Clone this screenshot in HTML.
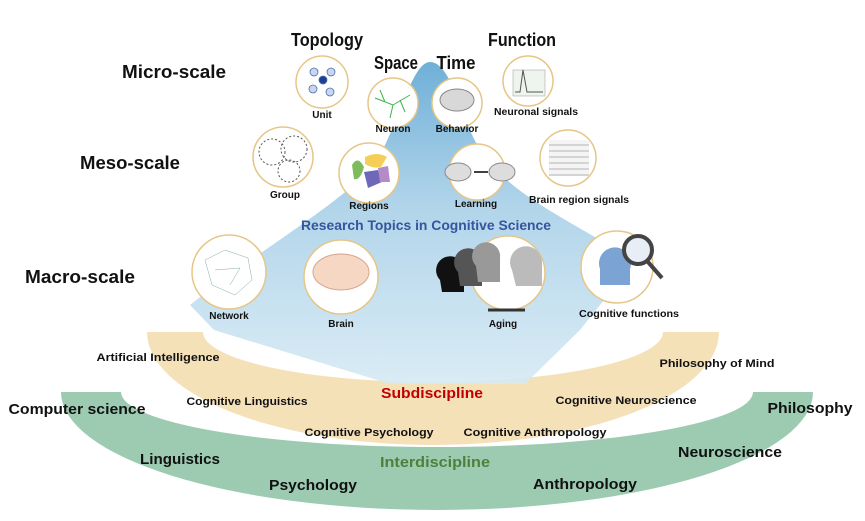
<!DOCTYPE html>
<html><head><meta charset="utf-8"><style>
html,body{margin:0;padding:0;background:#fff}
svg{display:block}
text{font-family:"Liberation Sans",sans-serif;font-weight:bold;fill:#111}
.t{font-size:18px}.s{font-size:10px}.m{font-size:11px}.l{font-size:15px}
</style></head><body>
<svg width="865" height="521" viewBox="0 0 865 521" xmlns="http://www.w3.org/2000/svg">
<defs>
<linearGradient id="bl" x1="0" y1="0" x2="0" y2="1">
<stop offset="0" stop-color="#5fa7d3"/><stop offset="0.45" stop-color="#a9d0e8"/><stop offset="1" stop-color="#d6eaf4"/>
</linearGradient>
</defs>
<!-- green band -->
<path d="M61,392 A376,118 0 0 0 813,392 L753,392 A316,55 0 0 1 121,392 Z" fill="#9ccbb1"/>
<!-- tan band -->
<path d="M147,332 A286,113 0 0 0 719,332 L663,332 A230,50 0 0 1 203,332 Z" fill="#f5e1b8"/>
<!-- blue peak -->
<path d="M430,62 C445,62 455,90 470,130 C490,180 540,205 600,240 L640,255 L580,330 L525,384 L390,384 L214,330 L190,305 C260,250 330,210 370,170 C395,140 410,62 430,62 Z" fill="url(#bl)" opacity="0.9"/>
<!-- circles -->
<g fill="#fff" stroke="#e6c687" stroke-width="1.5">
<circle cx="322" cy="82" r="26"/><circle cx="393" cy="103" r="25"/><circle cx="457" cy="103" r="25"/><circle cx="528" cy="81" r="25"/>
<circle cx="283" cy="157" r="30"/><circle cx="369" cy="173" r="30"/><circle cx="477" cy="172" r="28"/><circle cx="568" cy="158" r="28"/>
<circle cx="229" cy="272" r="37"/><circle cx="341" cy="277" r="37"/><circle cx="508" cy="273" r="37"/><circle cx="617" cy="267" r="36"/>
</g>
<!-- icons -->
<g stroke="#4a6fb0" stroke-width="0.8" fill="#c9d6ee"><circle cx="314" cy="72" r="4"/><circle cx="331" cy="72" r="4"/><circle cx="313" cy="89" r="4"/><circle cx="330" cy="92" r="4"/><circle cx="323" cy="80" r="4" fill="#1f3f95"/></g>
<g stroke="#3cb54a" stroke-width="1" fill="none"><path d="M375,98 L393,105 L410,95 M393,105 L390,118 M385,102 L380,90 M400,100 L405,112"/></g>
<ellipse cx="457" cy="100" rx="17" ry="11" fill="#d8d8d8" stroke="#888"/>
<rect x="513" y="70" width="32" height="26" fill="#eef4ee" stroke="#999" stroke-width="0.5"/><path d="M515,92 L520,92 L523,70 L527,92 L543,92" stroke="#555" fill="none"/>
<g fill="none" stroke="#555" stroke-dasharray="2,2"><circle cx="272" cy="152" r="13"/><circle cx="294" cy="149" r="13"/><circle cx="289" cy="171" r="11"/></g>
<path d="M352,165 q6,-10 12,2 q-4,14 -10,12 z" fill="#7dbb5d"/><path d="M365,157 q12,-6 22,0 l-6,10 q-8,2 -16,-3z" fill="#f5cf55"/><path d="M364,172 l14,-2 l4,12 l-14,6z" fill="#6f68b8"/><path d="M378,168 l10,-2 l2,16 l-10,0z" fill="#b48ac8"/>
<ellipse cx="458" cy="172" rx="13" ry="9" fill="#ddd" stroke="#888"/><ellipse cx="502" cy="172" rx="13" ry="9" fill="#ddd" stroke="#888"/><path d="M474,172 L488,172" stroke="#000" stroke-width="1.5"/>
<rect x="549" y="140" width="40" height="36" fill="#f4f4f4"/><g stroke="#777" stroke-width="0.5"><path d="M549,145h40M549,151h40M549,157h40M549,163h40M549,169h40M549,175h40"/></g>
<g stroke="#8aa" stroke-width="0.5" fill="none"><path d="M205,260 L225,250 L248,258 L252,280 L235,295 L212,285 Z M215,270 L240,268 L230,285"/></g>
<ellipse cx="341" cy="272" rx="28" ry="18" fill="#f6d7c4" stroke="#d9a58c"/>
<path d="M440,280 a14,14 0 1 1 24,-8 l0,20 h-22z" fill="#111"/><path d="M458,272 a14,14 0 1 1 24,-8 l0,22 h-22z" fill="#555"/><path d="M476,266 a14,14 0 1 1 24,-8 l0,24 h-22z" fill="#999"/><path d="M512,270 a16,16 0 1 1 30,-8 l0,24 h-26z" fill="#bbb"/>
<path d="M488,310 L525,310" stroke="#333" stroke-width="3"/>
<path d="M600,285 l0,-16 a16,16 0 1 1 30,0 l0,16z" fill="#7ba3d4"/><circle cx="638" cy="250" r="14" fill="#e8eef6" stroke="#444" stroke-width="4"/><path d="M648,262 L662,278" stroke="#444" stroke-width="4"/>
<!-- titles -->
<text class="t" x="327" y="46" text-anchor="middle" textLength="72" lengthAdjust="spacingAndGlyphs">Topology</text>
<text class="t" x="396" y="69" text-anchor="middle" textLength="44" lengthAdjust="spacingAndGlyphs">Space</text>
<text class="t" x="456" y="69" text-anchor="middle" textLength="39" lengthAdjust="spacingAndGlyphs">Time</text>
<text class="t" x="522" y="46" text-anchor="middle" textLength="68" lengthAdjust="spacingAndGlyphs">Function</text>
<text class="t" x="174" y="78" text-anchor="middle" textLength="104" lengthAdjust="spacingAndGlyphs">Micro-scale</text>
<text class="t" x="130" y="169" text-anchor="middle" textLength="100" lengthAdjust="spacingAndGlyphs">Meso-scale</text>
<text class="t" x="80" y="283" text-anchor="middle" textLength="110" lengthAdjust="spacingAndGlyphs">Macro-scale</text>
<text x="426" y="230" text-anchor="middle" textLength="250" lengthAdjust="spacingAndGlyphs" style="font-size:14px;fill:#35559c">Research Topics in Cognitive Science</text>
<!-- small labels -->
<g class="s" text-anchor="middle">
<text class="s" x="322" y="118">Unit</text><text class="s" x="393" y="132">Neuron</text><text class="s" x="457" y="132">Behavior</text>
<text class="s" x="536" y="115" textLength="84" lengthAdjust="spacingAndGlyphs">Neuronal signals</text>
<text class="s" x="285" y="198">Group</text><text class="s" x="369" y="209">Regions</text><text class="s" x="476" y="207">Learning</text>
<text class="s" x="579" y="203" textLength="100" lengthAdjust="spacingAndGlyphs">Brain region signals</text>
<text class="s" x="229" y="319">Network</text><text class="s" x="341" y="327">Brain</text><text class="s" x="503" y="327">Aging</text>
<text class="s" x="629" y="317" textLength="100" lengthAdjust="spacingAndGlyphs">Cognitive functions</text>
</g>
<g text-anchor="middle">
<text class="m" x="158" y="361" textLength="123" lengthAdjust="spacingAndGlyphs">Artificial Intelligence</text>
<text class="m" x="717" y="367" textLength="115" lengthAdjust="spacingAndGlyphs">Philosophy of Mind</text>
<text x="432" y="398" textLength="102" lengthAdjust="spacingAndGlyphs" style="font-size:15px;fill:#c00000">Subdiscipline</text>
<text class="m" x="247" y="405" textLength="121" lengthAdjust="spacingAndGlyphs">Cognitive Linguistics</text>
<text class="m" x="626" y="404" textLength="141" lengthAdjust="spacingAndGlyphs">Cognitive Neuroscience</text>
<text class="m" x="369" y="436" textLength="129" lengthAdjust="spacingAndGlyphs">Cognitive Psychology</text>
<text class="m" x="535" y="436" textLength="143" lengthAdjust="spacingAndGlyphs">Cognitive Anthropology</text>
<text class="l" x="77" y="414" textLength="137" lengthAdjust="spacingAndGlyphs">Computer science</text>
<text class="l" x="810" y="413" textLength="85" lengthAdjust="spacingAndGlyphs">Philosophy</text>
<text class="l" x="180" y="464" textLength="80" lengthAdjust="spacingAndGlyphs">Linguistics</text>
<text x="435" y="467" textLength="110" lengthAdjust="spacingAndGlyphs" style="font-size:15px;fill:#4f7f3a">Interdiscipline</text>
<text class="l" x="730" y="457" textLength="104" lengthAdjust="spacingAndGlyphs">Neuroscience</text>
<text class="l" x="313" y="490" textLength="88" lengthAdjust="spacingAndGlyphs">Psychology</text>
<text class="l" x="585" y="489" textLength="104" lengthAdjust="spacingAndGlyphs">Anthropology</text>
</g>
</svg>
</body></html>
